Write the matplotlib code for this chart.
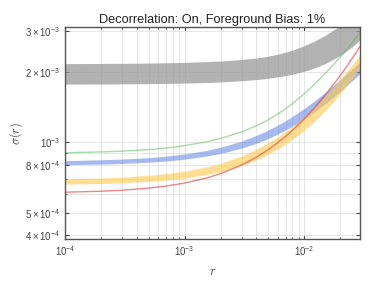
import numpy as np
import matplotlib
matplotlib.use("Agg")
import matplotlib.pyplot as plt
from matplotlib.ticker import FixedLocator, NullFormatter

plt.rcParams['font.family'] = ['Liberation Sans', 'DejaVu Sans']
plt.rcParams['mathtext.fontset'] = 'cm'

r = [1e-4, 2e-4, 3e-4, 5e-4, 7e-4, 1e-3, 1.5e-3, 2e-3, 3e-3, 4e-3, 5e-3,
     6e-3, 7e-3, 8e-3, 1e-2, 1.2e-2, 1.5e-2, 1.8e-2, 2.1e-2, 2.5e-2, 3e-2]

# sigma(r) values, in units of 1e-4
gray_lo = [17.80, 17.82, 17.84, 17.88, 17.92, 17.98, 18.08, 18.18, 18.40, 18.62, 18.85,
           19.10, 19.35, 19.62, 20.20, 20.80, 21.80, 22.90, 24.00, 25.60, 27.80]
gray_hi = [21.80, 21.83, 21.86, 21.92, 21.98, 22.07, 22.22, 22.37, 22.70, 23.05, 23.45,
           23.90, 24.40, 24.90, 26.00, 27.10, 28.80, 30.60, 32.40, 34.80, 38.00]

blue_lo = [8.03, 8.08, 8.13, 8.23, 8.33, 8.48, 8.73, 8.97, 9.46, 9.93, 10.40,
           10.86, 11.31, 11.75, 12.61, 13.44, 14.65, 15.80, 16.90, 18.30, 19.90]
blue_hi = [8.36, 8.43, 8.49, 8.61, 8.74, 8.93, 9.23, 9.54, 10.14, 10.73, 11.30,
           11.86, 12.41, 12.95, 13.98, 14.98, 16.40, 17.75, 19.00, 20.60, 22.30]

yellow_lo = [6.63, 6.67, 6.72, 6.81, 6.90, 7.04, 7.27, 7.50, 7.97, 8.43, 8.90,
             9.37, 9.84, 10.32, 11.27, 12.23, 13.68, 15.15, 16.64, 18.65, 21.20]
yellow_hi = [6.98, 7.04, 7.10, 7.23, 7.35, 7.53, 7.84, 8.14, 8.75, 9.35, 9.95,
             10.55, 11.14, 11.73, 12.91, 14.07, 15.79, 17.48, 19.15, 21.35, 24.00]

green = [9.04, 9.11, 9.18, 9.32, 9.46, 9.70, 10.05, 10.40, 11.10, 11.80, 12.50,
         13.22, 13.95, 14.68, 16.15, 17.60, 19.75, 21.85, 23.90, 26.60, 29.90]
red = [6.12, 6.18, 6.24, 6.37, 6.50, 6.70, 7.02, 7.35, 8.00, 8.65, 9.30,
       9.96, 10.62, 11.28, 12.60, 13.93, 15.94, 17.96, 20.00, 22.74, 26.20]

ytick_vals = [4e-4, 5e-4, 8e-4, 1e-3, 2e-3, 3e-3]
ytick_labels = [r'$\mathdefault{4\times10^{-4}}$', r'$\mathdefault{5\times10^{-4}}$',
                r'$\mathdefault{8\times10^{-4}}$', r'$\mathdefault{10^{-3}}$',
                r'$\mathdefault{2\times10^{-3}}$', r'$\mathdefault{3\times10^{-3}}$']
yminor_vals = [6e-4, 7e-4, 9e-4]
xtick_vals = [1e-4, 1e-3, 1e-2]
xtick_labels = [r'$\mathdefault{10^{-4}}$', r'$\mathdefault{10^{-3}}$', r'$\mathdefault{10^{-2}}$']

unit = 1e-4
def sc(vals):
    return np.array(vals) * unit

fig = plt.figure(figsize=(3.74, 2.81), dpi=100)
ax = fig.add_axes([0.174, 0.149, 0.789, 0.755])

# bands and thin lines
ax.fill_between(r, sc(gray_lo), sc(gray_hi), color='#999999', alpha=0.75, lw=0)
ax.fill_between(r, sc(blue_lo), sc(blue_hi), color='#6688e8', alpha=0.58, lw=0)
ax.fill_between(r, sc(yellow_lo), sc(yellow_hi), color='#ffc84a', alpha=0.6, lw=0)
ax.plot(r, sc(green), color='#5cc05c', lw=1.0, alpha=0.55)
ax.plot(r, sc(red), color='#e8343a', lw=1.0, alpha=0.6)

ax.set_xscale('log')
ax.set_yscale('log')
ax.set_xlim(1e-4, 2.95e-2)
ax.set_ylim(3.85e-4, 3.13e-3)

ax.yaxis.set_major_locator(FixedLocator(ytick_vals))
ax.set_yticklabels(ytick_labels)
ax.yaxis.set_minor_locator(FixedLocator(yminor_vals))
ax.yaxis.set_minor_formatter(NullFormatter())
ax.xaxis.set_major_locator(FixedLocator(xtick_vals))
ax.set_xticklabels(xtick_labels)

ax.grid(True, which='both', color='#e6e6e6', lw=0.7)
ax.set_axisbelow(True)
ax.tick_params(which='both', direction='in', top=True, right=True,
               labelsize=7, colors='#444444', labelcolor='#444444')
ax.tick_params(which='major', length=3, width=0.8)
ax.tick_params(which='minor', length=1.5, width=0.6)
for s in ax.spines.values():
    s.set_color('#555555')
    s.set_linewidth(1.0)

ax.set_title('Decorrelation: On, Foreground Bias: 1%', fontsize=9.2, color='#222222', pad=3)
ax.set_xlabel(r'$r$', fontsize=9, color='#444444')
ax.set_ylabel(r'$\sigma(r)$', fontsize=9, color='#444444')
ax.xaxis.set_label_coords(0.5, -0.125)
ax.yaxis.set_label_coords(-0.135, 0.5)

fig.savefig('out.png', dpi=100)
